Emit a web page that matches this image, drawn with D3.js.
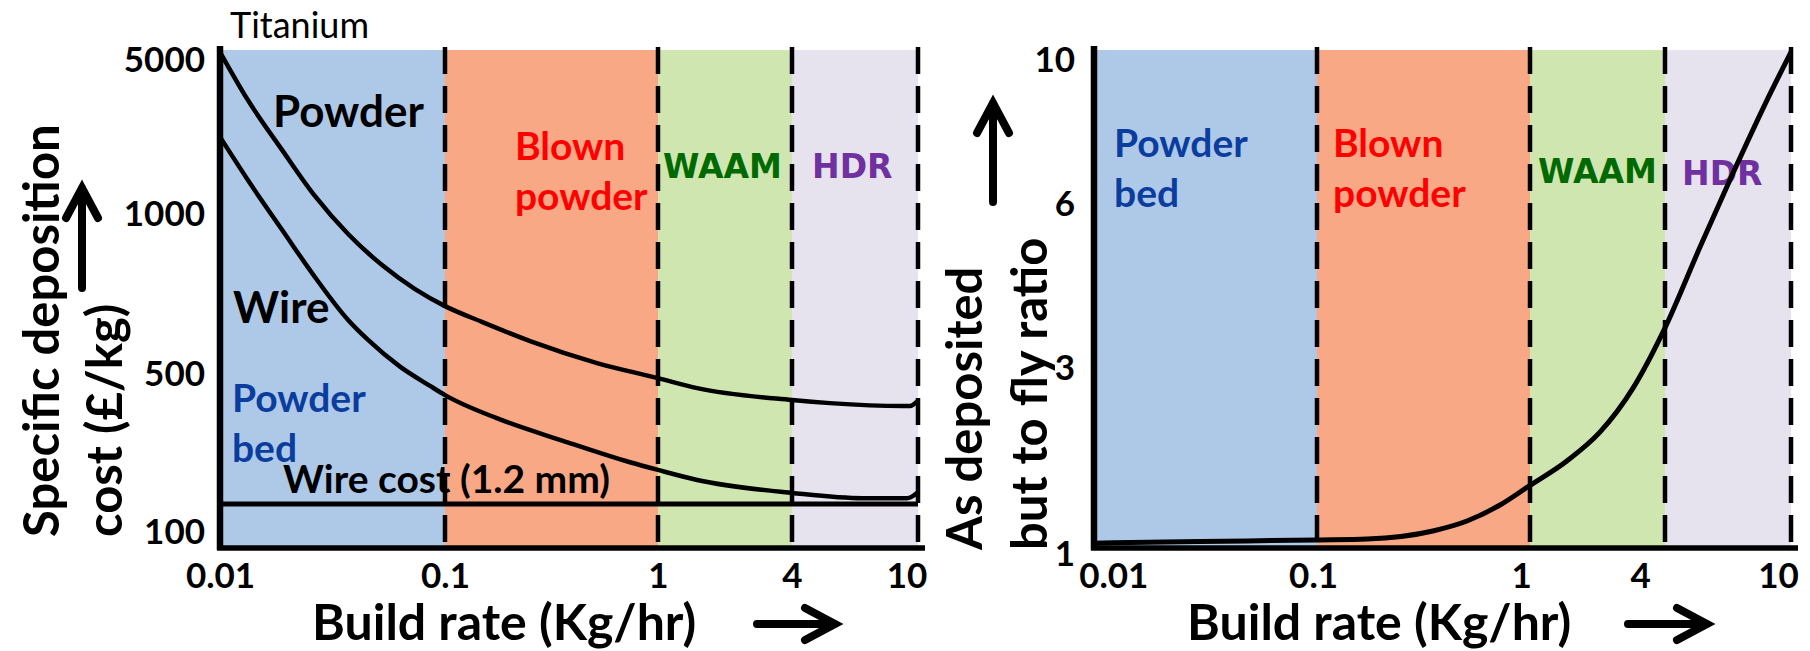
<!DOCTYPE html>
<html>
<head>
<meta charset="utf-8">
<script src="https://cdn.jsdelivr.net/npm/d3@7"></script>
<style>
  body { margin: 0; background: #fff; }
  svg text { font-family: Lato, "Open Sans", sans-serif; font-weight: bold; }
</style>
</head>
<body>
<svg id="chart" width="1810" height="651"></svg>
<script>
// build-rate boundaries between the processes (Kg/hr), shared by both panels
var rateStops = [0.01, 0.1, 1, 4, 10]
var processes = ["Powder bed", "Blown powder", "WAAM", "HDR"]
var rateLabels = ["0.01", "0.1", "1", "4", "10"]
// where the rate labels sit under each axis (the schematic does not line them up exactly)
var costRateLabelAt = [0.01, 0.1, 1, 4, 9.2]
var ratioRateLabelAt = [0.0122, 0.096, 0.91, 3.1, 9.1]

var costTicks = [100, 500, 1000, 5000]
var ratioTicks = [1, 3, 6, 10]

// specific deposition cost (£/kg)
var powderRate = [0.01, 0.0133, 0.0189, 0.0264, 0.0371, 0.0525, 0.0736, 0.1, 0.149, 0.251, 0.517, 1, 1.5, 4, 5.27, 8.97, 9.43, 10]
var powderCost = [4900, 3050, 1860, 1183, 913, 798, 719, 668, 624, 574, 522, 477, 435, 390, 379, 369, 369, 388]
var wireRate = [0.01, 0.0133, 0.0189, 0.0264, 0.0371, 0.0455, 0.0631, 0.0858, 0.1, 0.175, 0.358, 0.739, 1, 1.5, 4, 6.7, 9.23, 10]
var wireCost = [2120, 1385, 929, 758, 629, 577, 514, 444, 408, 330, 268, 220, 205, 187, 166, 158, 158, 167]
var wireStockRate = [0.01, 10]
var wireStockCost = [150, 150]

// as deposited but to fly ratio
var btfRate = [0.01, 0.0299, 0.1, 0.172, 0.35, 0.506, 0.723, 0.99, 1.46, 2.05, 2.88, 4, 5.16, 6.56, 8.4, 10]
var btfRatio = [1.03, 1.04, 1.05, 1.056, 1.109, 1.178, 1.298, 1.457, 1.696, 2.02, 2.64, 3.54, 4.98, 6.63, 8.46, 9.93]

// anchors of the process names: [rate, value at first baseline]
var costProcessAt = [[0.0113, 349], [0.213, 1687], [1.053, 1413], [4.63, 1413]]
var ratioProcessAt = [[0.0123, 7.0], [0.1189, 7.0], [1.086, 6.41], [4.53, 6.37]]

var curveNames = ["Powder", "Wire", "Wire cost (1.2 mm)"]
var curveNameAt = [[0.0172, 2340], [0.01142, 621], [0.01905, 166]]

var processFill = { "Powder bed": "#aec9e8", "Blown powder": "#f9a886", "WAAM": "#d0e6b1", "HDR": "#e6e3ef" }
var processInk = { "Powder bed": "#0b3d9e", "Blown powder": "#ff0000", "WAAM": "#006a00", "HDR": "#7030a0" }

var svg = d3.select("#chart")

var panels = [
    {
        xRange: [220, 445, 658, 792, 918], yTicks: costTicks, yRange: [548, 373, 213, 50],
        yPad: 15, firstDy: "-0.14em", labelAt: costRateLabelAt, processAt: costProcessAt,
        curves: [[powderRate, powderCost, 4.5], [wireRate, wireCost, 4.5], [wireStockRate, wireStockCost, 5]],
        titles: [["Specific deposition", 59, 537], ["cost (£/kg)", 122, 537]],
        xTitle: 312, upArrow: [82, 288, 188], rightArrow: [757, 835]
    },
    {
        xRange: [1094, 1317, 1530, 1665, 1791], yTicks: ratioTicks, yRange: [548, 367, 203, 50],
        yPad: 19, firstDy: "0.49em", labelAt: ratioRateLabelAt, processAt: ratioProcessAt,
        curves: [[btfRate, btfRatio, 5]],
        titles: [["As deposited", 982, 550], ["but to fly ratio", 1047, 550]],
        xTitle: 1187, upArrow: [993, 202, 103], rightArrow: [1628, 1707]
    }
]

panels.forEach(function(p, pi) {
    var x = d3.scaleLog().domain(rateStops).range(p.xRange)
    var y = d3.scaleLog().domain(p.yTicks).range(p.yRange)
    var top = p.yRange[p.yRange.length - 1]
    var bottom = p.yRange[0]
    var g = svg.append("g")

    // process bands
    g.selectAll("rect.band")
        .data(processes)
        .enter()
        .append("rect")
        .attr("class", "band")
        .attr("x", (d, i) => x(rateStops[i]))
        .attr("width", (d, i) => x(rateStops[i + 1]) - x(rateStops[i]))
        .attr("y", top)
        .attr("height", bottom - top)
        .attr("fill", d => processFill[d])

    // dashed boundaries
    g.selectAll("line.bound")
        .data(rateStops.slice(1))
        .enter()
        .append("line")
        .attr("x1", d => x(d)).attr("x2", d => x(d))
        .attr("y1", top - 3).attr("y2", bottom)
        .attr("stroke", "#000")
        .attr("stroke-width", 4.5)
        .attr("stroke-dasharray", "27,12")

    // process names
    g.selectAll("text.proc")
        .data(processes)
        .enter()
        .append("text")
        .attr("class", "proc")
        .attr("fill", d => processInk[d])
        .attr("font-size", (d, i) => i < 2 ? 39 : 33)
        .style("font-family", (d, i) => i < 2 ? null : "'DejaVu Sans', sans-serif")
        .each(function(d, i) {
            var t = d3.select(this)
            var px = x(p.processAt[i][0])
            var py = y(p.processAt[i][1])
            d.split(" ").forEach(function(w, k) {
                t.append("tspan").attr("x", px).attr("y", py + k * 50).text(w)
            })
        })

    // curves
    var line = d3.line()
        .x(d => x(d[0]))
        .y(d => y(d[1]))
        .curve(d3.curveMonotoneX)

    p.curves.forEach(function(c) {
        g.append("path")
            .datum(d3.zip(c[0], c[1]))
            .attr("d", line)
            .attr("fill", "none")
            .attr("stroke", "#000")
            .attr("stroke-width", c[2])
    })

    // curve names (cost panel only)
    if (pi === 0) {
        g.selectAll("text.cname")
            .data(curveNames)
            .enter()
            .append("text")
            .attr("class", "cname")
            .attr("x", (d, i) => x(curveNameAt[i][0]))
            .attr("y", (d, i) => y(curveNameAt[i][1]))
            .attr("font-size", (d, i) => i < 2 ? 44 : 39)
            .text(d => d)
    }

    // frame
    g.append("path")
        .attr("d", "M" + p.xRange[0] + "," + (top - 4) + "V" + (bottom + 2))
        .attr("stroke", "#000").attr("stroke-width", 6.5).attr("fill", "none")
    g.append("path")
        .attr("d", "M" + (p.xRange[0] - 3) + "," + bottom + "H" + (p.xRange[4] + 7))
        .attr("stroke", "#000").attr("stroke-width", 5.5).attr("fill", "none")

    // axes (labels only)
    var xa = g.append("g")
        .attr("transform", "translate(0," + bottom + ")")
        .call(d3.axisBottom(x).tickValues(p.labelAt).tickFormat((d, i) => rateLabels[i]).tickSize(0).tickPadding(15))
    xa.select(".domain").remove()
    xa.selectAll("text").attr("font-size", 35).attr("fill", "#000")

    var ya = g.append("g")
        .attr("transform", "translate(" + p.xRange[0] + ",0)")
        .call(d3.axisLeft(y).tickValues(p.yTicks).tickFormat(d => d).tickSize(0).tickPadding(p.yPad))
    ya.select(".domain").remove()
    ya.selectAll("text")
        .attr("font-size", 35)
        .attr("fill", "#000")
        .attr("dy", (d, i, n) => i === 0 ? p.firstDy : (i === n.length - 1 ? "0.6em" : "0.35em"))

    // axis titles
    p.titles.forEach(function(t) {
        g.append("text")
            .attr("transform", "translate(" + t[1] + "," + t[2] + ") rotate(-90)")
            .attr("font-size", 49)
            .text(t[0])
    })
    g.append("text")
        .attr("x", p.xTitle)
        .attr("y", 640)
        .attr("font-size", 50)
        .text("Build rate (Kg/hr)")

    // arrows
    var ua = p.upArrow
    g.append("path")
        .attr("d", "M" + ua[0] + "," + ua[1] + "V" + ua[2] +
            "M" + (ua[0] - 16) + "," + (ua[2] + 30) + "L" + ua[0] + "," + ua[2] + "L" + (ua[0] + 16) + "," + (ua[2] + 30))
        .attr("stroke", "#000").attr("stroke-width", 8).attr("fill", "none")
        .attr("stroke-linecap", "round").attr("stroke-linejoin", "miter")
    var ra = p.rightArrow
    g.append("path")
        .attr("d", "M" + ra[0] + ",624H" + ra[1] +
            "M" + (ra[1] - 30) + ",608L" + ra[1] + ",624L" + (ra[1] - 30) + ",640")
        .attr("stroke", "#000").attr("stroke-width", 8).attr("fill", "none")
        .attr("stroke-linecap", "round").attr("stroke-linejoin", "miter")
})

svg.append("text")
    .attr("x", 230)
    .attr("y", 38)
    .attr("font-size", 36)
    .style("font-weight", "normal")
    .text("Titanium")
</script>
</body>
</html>
